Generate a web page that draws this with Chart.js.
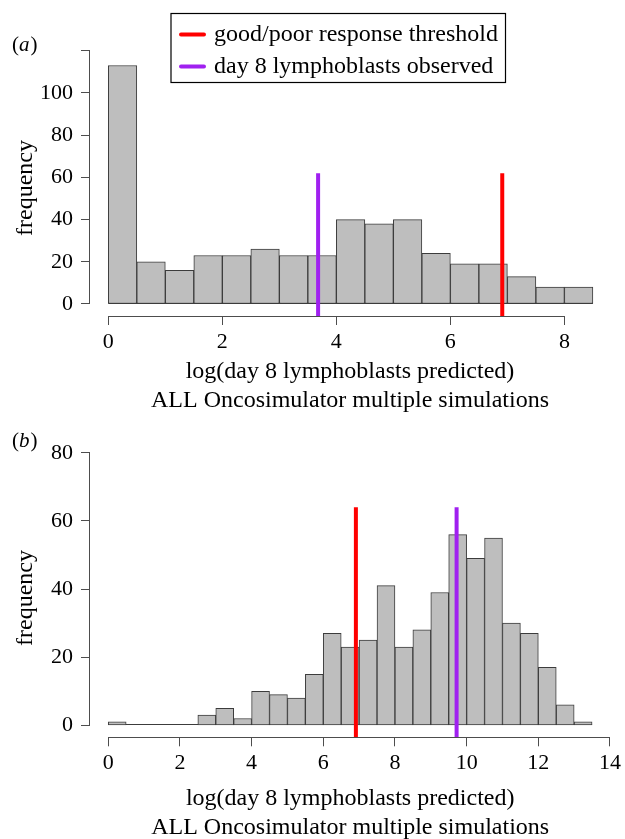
<!DOCTYPE html>
<html>
<head>
<meta charset="utf-8">
<title>ALL Oncosimulator histograms</title>
<script src="https://cdn.jsdelivr.net/npm/chart.js@4.4.1/dist/chart.umd.min.js"></script>
<style>
  html, body { margin: 0; padding: 0; background: #fff; overflow: hidden; }
  #wrap { position: relative; width: 625px; height: 839px; }
  .panel { position: absolute; left: 0; width: 625px; }
  #panelA { top: 0; height: 420px; }
  #panelB { top: 420px; height: 430px; }
  canvas { display: block; }
</style>
</head>
<body>
<div id="wrap">
  <div class="panel" id="panelA"><canvas id="chartA" width="625" height="420"></canvas></div>
  <div class="panel" id="panelB"><canvas id="chartB" width="625" height="430"></canvas></div>
</div>
<script>
// ---- data, panel (a) ----
const binMidsA = [0.25, 0.75, 1.25, 1.75, 2.25, 2.75, 3.25, 3.75, 4.25, 4.75, 5.25, 5.75, 6.25, 6.75, 7.25, 7.75, 8.25]
const countsA = [113, 20, 16, 23, 23, 26, 23, 23, 40, 38, 40, 24, 19, 19, 13, 8, 8]
const xTicksA = [0, 2, 4, 6, 8]
const yTicksA = [0, 20, 40, 60, 80, 100, 120]
const yTickLabelsA = ['0', '20', '40', '60', '80', '100', '']
const thresholdA = 6.91
const observedA = 3.68
const markerTopA = 62

// ---- data, panel (b) ----
const binMidsB = [0.25, 0.75, 1.25, 1.75, 2.25, 2.75, 3.25, 3.75, 4.25, 4.75, 5.25, 5.75, 6.25, 6.75,
                  7.25, 7.75, 8.25, 8.75, 9.25, 9.75, 10.25, 10.75, 11.25, 11.75, 12.25, 12.75, 13.25]
const countsB = [1, 0, 0, 0, 0, 3, 5, 2, 10, 9, 8, 15, 27, 23, 25, 41, 23, 28, 39, 56, 49, 55, 30, 27, 17, 6, 1]
const xTicksB = [0, 2, 4, 6, 8, 10, 12, 14]
const yTicksB = [0, 20, 40, 60, 80]
const yTickLabelsB = ['0', '20', '40', '60', '80']
const thresholdB = 6.91
const observedB = 9.72
const markerTopB = 64

const binWidth = 0.5
const xTitle = ['log(day 8 lymphoblasts predicted)', 'ALL Oncosimulator multiple simulations']
const yTitle = 'frequency'
const legendLabels = ['good/poor response threshold', 'day 8 lymphoblasts observed']

const FONT = "'Liberation Serif', 'Times New Roman', serif"
const axisColor = '#4d4d4d'
const barFill = '#bebebe'
const barEdge = '#3c3c3c'
const red = '#ff0000'
const purple = '#a020f0'

Chart.defaults.font.family = FONT

// R style axes, panel tag, y title and legend box
const rStyle = {
    id: 'rStyle',
    beforeDatasetsDraw(chart, args, opts) {
        // zero line under the histogram (shows where bins are empty)
        const ctx = chart.ctx, x = chart.scales.x, y = chart.scales.y
        const mids = chart.data.datasets.find(d => d.type === 'bar').data.map(p => p.x)
        const y0 = Math.round(y.getPixelForValue(0)) - 0.5
        ctx.save()
        ctx.strokeStyle = barEdge
        ctx.lineWidth = 1
        ctx.beginPath()
        ctx.moveTo(x.getPixelForValue(mids[0] - binWidth / 2), y0)
        ctx.lineTo(x.getPixelForValue(mids[mids.length - 1] + binWidth / 2), y0)
        ctx.stroke()
        ctx.restore()
    },
    afterDraw(chart, args, opts) {
        const ctx = chart.ctx, x = chart.scales.x, y = chart.scales.y
        const area = chart.chartArea
        ctx.save()

        // axis lines only between first and last tick
        ctx.strokeStyle = axisColor
        ctx.lineWidth = 1
        const ax = Math.round(area.left) - 0.5
        const ay = Math.round(area.bottom) + 0.5
        ctx.beginPath()
        ctx.moveTo(ax, y.getPixelForValue(y.ticks[0].value))
        ctx.lineTo(ax, y.getPixelForValue(y.ticks[y.ticks.length - 1].value))
        ctx.moveTo(x.getPixelForValue(x.ticks[0].value), ay)
        ctx.lineTo(x.getPixelForValue(x.ticks[x.ticks.length - 1].value), ay)
        ctx.stroke()

        // panel tag: (a) / (b) with italic letter
        ctx.fillStyle = '#000'
        ctx.textBaseline = 'alphabetic'
        ctx.textAlign = 'left'
        let px = 12
        ctx.font = `21px ${FONT}`
        ctx.fillText('(', px, opts.tagY)
        px += ctx.measureText('(').width
        ctx.font = `italic 21px ${FONT}`
        ctx.fillText(opts.tag, px, opts.tagY)
        px += ctx.measureText(opts.tag).width + 1
        ctx.font = `21px ${FONT}`
        ctx.fillText(')', px, opts.tagY)

        // rotated y title
        ctx.save()
        ctx.translate(26, opts.yTitleY)
        ctx.rotate(-Math.PI / 2)
        ctx.font = `24px ${FONT}`
        ctx.textAlign = 'center'
        ctx.textBaseline = 'middle'
        ctx.fillText(yTitle, 0, 0)
        ctx.restore()

        if (opts.legend) {
            const lines = chart.data.datasets.filter(d => d.type === 'line')
            ctx.strokeStyle = '#000'
            ctx.lineWidth = 1.2
            ctx.strokeRect(171, 13.5, 334.5, 69)
            ctx.font = `24px ${FONT}`
            ctx.textAlign = 'left'
            ctx.textBaseline = 'middle'
            lines.forEach((d, i) => {
                const ly = 34.5 + i * 32
                ctx.strokeStyle = d.borderColor
                ctx.lineWidth = 4
                ctx.lineCap = 'round'
                ctx.beginPath()
                ctx.moveTo(181, ly)
                ctx.lineTo(204, ly)
                ctx.stroke()
                ctx.fillStyle = '#000'
                ctx.fillText(d.label, 214, ly)
            })
        }
        ctx.restore()
    }
}

function markerLine(label, xVal, yFrom, yTo, color) {
    return {
        type: 'line',
        label: label,
        data: [{x: xVal, y: yFrom}, {x: xVal, y: yTo}],
        borderColor: color,
        borderWidth: 4,
        borderCapStyle: 'butt',
        pointRadius: 0,
        fill: false,
        order: 0
    }
}

function makeHistogram(canvasId, cfg) {
    const canvas = document.getElementById(canvasId)
    return new Chart(canvas, {
        type: 'bar',
        data: {
            datasets: [
                markerLine(legendLabels[0], cfg.threshold, cfg.yMin, cfg.markerTop, red),
                markerLine(legendLabels[1], cfg.observed, cfg.yMin, cfg.markerTop, purple),
                {
                    type: 'bar',
                    label: 'frequency',
                    data: cfg.mids.map((m, i) => ({x: m, y: cfg.counts[i]})),
                    backgroundColor: barFill,
                    borderColor: barEdge,
                    borderWidth: 1,
                    borderSkipped: false,
                    barPercentage: 1,
                    categoryPercentage: 1,
                    order: 1
                }
            ]
        },
        options: {
            responsive: false,
            animation: false,
            devicePixelRatio: 1,
            layout: { padding: { left: 0, right: cfg.padRight, top: cfg.padTop, bottom: 0 } },
            plugins: {
                legend: { display: false },
                tooltip: { enabled: false },
                rStyle: { tag: cfg.tag, tagY: cfg.tagY, yTitleY: cfg.yTitleY, legend: cfg.legend }
            },
            scales: {
                x: {
                    type: 'linear',
                    min: cfg.xMin,
                    max: cfg.xMax,
                    offset: false,
                    afterFit: s => { s.height = cfg.xAxisHeight },
                    afterBuildTicks: s => { s.ticks = cfg.xTicks.map(v => ({value: v})) },
                    grid: { display: true, offset: false, drawOnChartArea: false, drawTicks: true,
                            tickLength: 9, tickColor: axisColor, tickWidth: 1 },
                    border: { display: false },
                    ticks: { autoSkip: false, maxRotation: 0, color: '#000', padding: 4,
                             font: { family: FONT, size: 22 }, callback: v => String(v) },
                    title: { display: true, text: xTitle, color: '#000',
                             font: { family: FONT, size: 24, lineHeight: 1.22 },
                             padding: { top: 0, bottom: cfg.titlePad } }
                },
                y: {
                    type: 'linear',
                    min: cfg.yMin,
                    max: cfg.yMax,
                    afterFit: s => { s.width = 90 },
                    afterBuildTicks: s => { s.ticks = cfg.yTicks.map(v => ({value: v})) },
                    grid: { display: true, drawOnChartArea: false, drawTicks: true,
                            tickLength: 9, tickColor: axisColor, tickWidth: 1 },
                    border: { display: false },
                    ticks: { autoSkip: false, color: '#000', padding: 8,
                             font: { family: FONT, size: 22 }, callback: (v, i) => cfg.yTickLabels[i] }
                }
            }
        },
        plugins: [rStyle]
    })
}

// panel (a): 0 at y=304, 2.11 px per count, x 0 at 108.3, 57 px per unit
makeHistogram('chartA', {
    mids: binMidsA, counts: countsA,
    xTicks: xTicksA, yTicks: yTicksA, yTickLabels: yTickLabelsA,
    threshold: thresholdA, observed: observedA, markerTop: markerTopA,
    xMin: -0.321, xMax: 8.80,
    yMin: -5.69, yMax: 125.1,
    padTop: 40, padRight: 15, xAxisHeight: 104, titlePad: 4.4,
    tag: 'a', tagY: 51, yTitleY: 188, legend: true
})

// panel (b): 0 at y=305.3 (canvas), 3.42 px per count, x 0 at 108.3, 35.96 px per unit
makeHistogram('chartB', {
    mids: binMidsB, counts: countsB,
    xTicks: xTicksB, yTicks: yTicksB, yTickLabels: yTickLabelsB,
    threshold: thresholdB, observed: observedB, markerTop: markerTopB,
    xMin: -0.509, xMax: 14.01,
    yMin: -3.51, yMax: 83.4,
    padTop: 20, padRight: 13, xAxisHeight: 112.7, titlePad: 7.4,
    tag: 'b', tagY: 26.7, yTitleY: 178, legend: false
})
</script>
</body>
</html>
